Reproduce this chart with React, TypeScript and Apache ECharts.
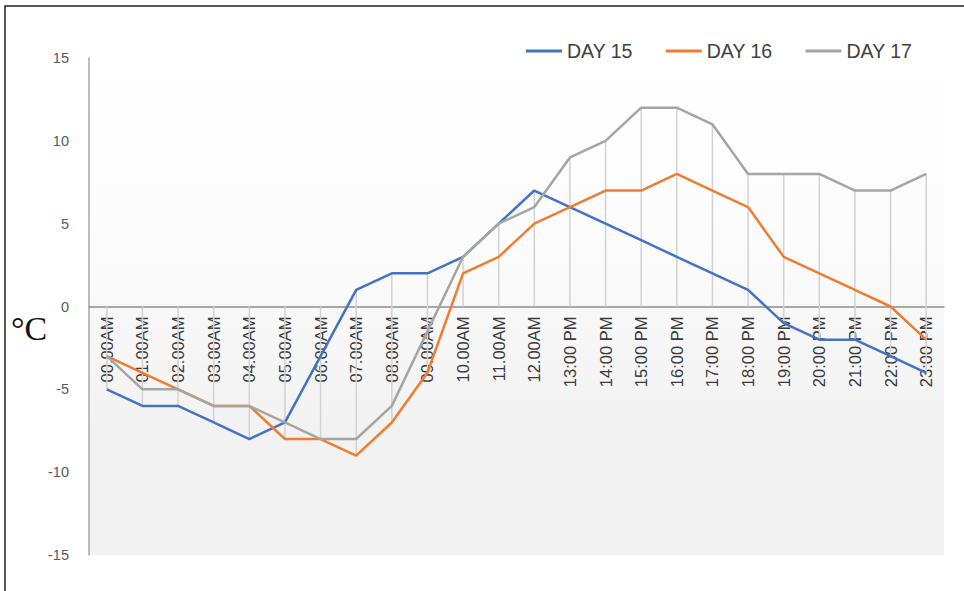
import React, { useEffect, useRef } from "react";
import * as echarts from "echarts";

const hours = [
  "00.00AM", "01.00AM", "02.00AM", "03.00AM", "04.00AM", "05.00AM",
  "06.00AM", "07.00AM", "08.00AM", "09.00AM", "10.00AM", "11.00AM",
  "12.00AM", "13:00 PM", "14:00 PM", "15:00 PM", "16:00 PM", "17:00 PM",
  "18:00 PM", "19:00 PM", "20:00 PM", "21:00 PM", "22:00 PM", "23:00 PM",
];
const day15 = [-5, -6, -6, -7, -8, -7, -3, 1, 2, 2, 3, 5, 7, 6, 5, 4, 3, 2, 1, -1, -2, -2, -3, -4];
const day16 = [-3, -4, -5, -6, -6, -8, -8, -9, -7, -4, 2, 3, 5, 6, 7, 7, 8, 7, 6, 3, 2, 1, 0, -2];
const day17 = [-3, -5, -5, -6, -6, -7, -8, -8, -6, -1.5, 3, 5, 6, 9, 10, 12, 12, 11, 8, 8, 8, 7, 7, 8];
const yTicks = [-15, 15, 5];

const FONT = "'Liberation Sans', Arial, sans-serif";

const GRID_TOP = 58;
const GRID_BOTTOM = 36;
const H = 591;

export default function App() {
  const ref = useRef<HTMLDivElement>(null);
  useEffect(() => {
    document.body.style.margin = "0";
    const chart = echarts.init(ref.current!, null, { renderer: "svg" });
    const drops = hours.map((_, i) => {
      const vals = [day15[i], day16[i], day17[i], 0];
      return [i, Math.min(...vals), Math.max(...vals)];
    });
    const gridH = H - GRID_TOP - GRID_BOTTOM;
    const zeroOffset = -gridH * (0 - yTicks[0]) / (yTicks[1] - yTicks[0]);
    chart.setOption({
      animation: false,
      backgroundColor: "#ffffff",
      textStyle: { fontFamily: FONT },
      grid: {
        left: 89,
        right: 20,
        top: GRID_TOP,
        bottom: GRID_BOTTOM,
        outerBoundsMode: "none",
        containLabel: false,
        show: true,
        borderWidth: 0,
        backgroundColor: new echarts.graphic.LinearGradient(0, 0, 0, 1, [
          { offset: 0, color: "#ffffff" },
          { offset: 0.4, color: "#fbfbfb" },
          { offset: 0.75, color: "#f2f2f2" },
          { offset: 1, color: "#f2f2f2" },
        ]),
      },
      legend: {
        top: 36,
        left: 521,
        icon: "rect",
        itemWidth: 36,
        itemHeight: 3,
        itemGap: 33,
        textStyle: { fontSize: 19.5, color: "#404040", fontFamily: FONT },
        data: ["DAY 15", "DAY 16", "DAY 17"],
      },
      xAxis: {
        type: "category",
        data: hours,
        boundaryGap: true,
        position: "bottom",
        offset: zeroOffset,
        axisLine: { onZero: false, lineStyle: { color: "#8c8c8c", width: 1.5 } },
        axisTick: { show: false },
        axisLabel: {
          rotate: 90,
          interval: 0,
          fontSize: 16.5,
          color: "#3a3a3a",
          margin: 10,
          fontFamily: FONT,
        },
        splitLine: { show: false },
      },
      yAxis: {
        type: "value",
        min: yTicks[0],
        max: yTicks[1],
        interval: yTicks[2],
        axisLine: { show: true, lineStyle: { color: "#a6a6a6", width: 1.5 } },
        axisTick: { show: false },
        splitLine: { show: false },
        axisLabel: { fontSize: 14.5, color: "#595959", margin: 20, fontFamily: FONT },
      },
      graphic: [
        {
          type: "rect",
          shape: { x: 5, y: 6, width: 1000, height: 1000 },
          style: { fill: "none", stroke: "#222", lineWidth: 1.5 },
          silent: true,
        },
        {
          type: "text",
          left: 11,
          top: 311,
          style: {
            text: "°C",
            font: "34px 'Liberation Serif', 'DejaVu Serif', serif",
            fill: "#111",
          },
        },
      ],
      series: [
        {
          type: "custom",
          name: "drop",
          z: 1,
          silent: true,
          data: drops,
          renderItem: (params: any, api: any) => {
            const top = api.coord([api.value(0), api.value(2)]);
            const bot = api.coord([api.value(0), api.value(1)]);
            return {
              type: "line",
              shape: { x1: top[0], y1: top[1], x2: bot[0], y2: bot[1] },
              style: { stroke: "#d2d2d2", lineWidth: 1.5 },
            };
          },
        },
        {
          name: "DAY 15",
          type: "line",
          data: day15,
          symbol: "none",
          z: 3,
          color: "#4472C4",
          lineStyle: { width: 2.5, color: "#4472C4" },
        },
        {
          name: "DAY 16",
          type: "line",
          data: day16,
          symbol: "none",
          z: 3,
          color: "#ED7D31",
          lineStyle: { width: 2.5, color: "#ED7D31" },
        },
        {
          name: "DAY 17",
          type: "line",
          data: day17,
          symbol: "none",
          z: 3,
          color: "#A5A5A5",
          lineStyle: { width: 2.5, color: "#A5A5A5" },
        },
      ],
    });
    return () => chart.dispose();
  }, []);
  return <div ref={ref} style={{ width: 964, height: 591 }} />;
}
